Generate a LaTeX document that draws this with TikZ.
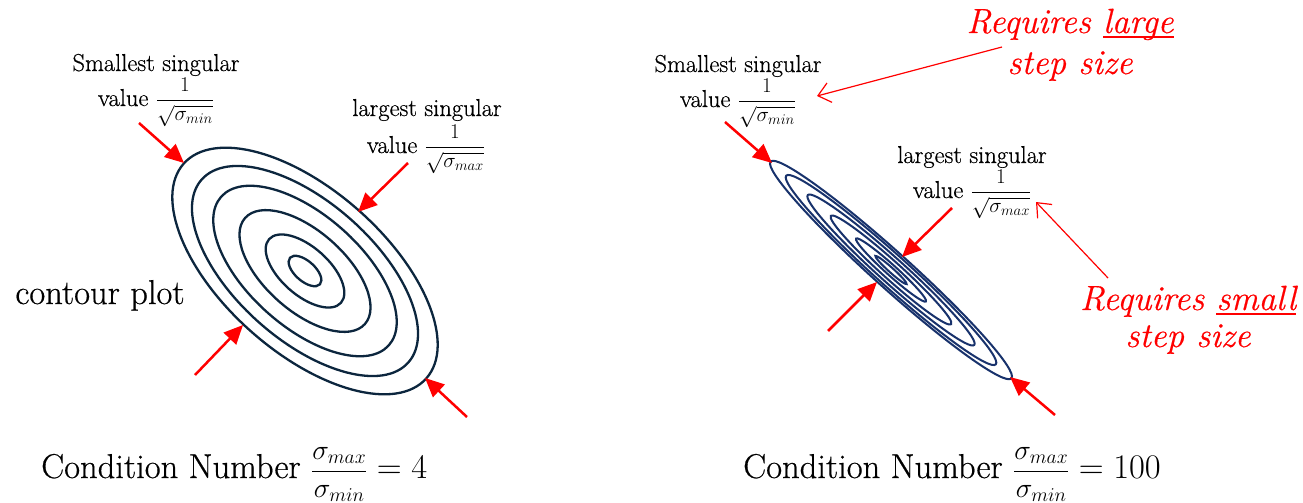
\documentclass[tikz,border=0pt]{standalone}
\usepackage{fix-cm}
\usepackage{amsmath}
\usepackage{fontspec}
\setmainfont{Latin Modern Roman}[FakeBold=0.5, AutoFakeBold=0.5]
\usetikzlibrary{arrows.meta}
\definecolor{contourA}{RGB}{12,38,62}
\definecolor{contourB}{RGB}{24,50,108}
\newcommand{\invsq}[1]{{\fontsize{21}{24}\selectfont$\dfrac{1}{\sqrt{\sigma_{#1}}}$}}
\newcommand{\cnfrac}{{\fontsize{28}{32}\selectfont$\dfrac{\sigma_{max}}{\sigma_{min}}$}}
\newsavebox{\ulbox}
\newcommand{\myul}[1]{\sbox{\ulbox}{#1}\rlap{\rule[-5pt]{\wd\ulbox}{1.8pt}}\usebox{\ulbox}}
\tikzset{
  lbl/.style={font=\fontsize{24.5}{28}\selectfont, inner sep=0pt, anchor=base},
  big/.style={font=\fontsize{34.5}{40}\selectfont, inner sep=0pt, anchor=base},
  req/.style={font=\fontsize{35}{40}\selectfont\itshape, text=red, inner sep=0pt, anchor=base},
  thickarrow/.style={red, line width=2.5pt, -{Triangle[length=19pt,width=17pt]}},
  thinarrow/.style={red, line width=1.2pt, -{Straight Barb[length=12pt,width=20pt]}},
  contA/.style={draw=contourA, line width=2.3pt},
  contB/.style={draw=contourB, line width=2pt},
}
\begin{document}
\begin{tikzpicture}[x=1pt,y=-1pt]
\useasboundingbox[fill=white] (0,0) rectangle (1303,503);

% ---------- left contour plot ----------
\begin{scope}[shift={(305,271)}, rotate=-41.5]
  \foreach \a in {162,138,112,80,48,20}
    \draw[contA] (0,0) ellipse [x radius=\a, y radius=\a/2];
\end{scope}

\node[lbl] (smin1) at (156,71) {Smallest singular};
\node[lbl] (vmin1) at (156,106) {value \invsq{min}};
\node[lbl] (smax1) at (427,116) {largest singular};
\node[lbl] (vmax1) at (426,153) {value \invsq{max}};
\node[big] (cp) at (100,304) {contour plot};
\node[big, anchor=base west] (cn1) at (41,478) {Condition Number \cnfrac$\;=4$};

\coordinate (a1s) at (139,123); \coordinate (a1t) at (184,163);
\coordinate (a2s) at (408,163); \coordinate (a2t) at (358,212);
\coordinate (a3s) at (195,375); \coordinate (a3t) at (243,325);
\coordinate (a4s) at (467,417); \coordinate (a4t) at (425,378);
\draw[thickarrow] (a1s) -- (a1t);
\draw[thickarrow] (a2s) -- (a2t);
\draw[thickarrow] (a3s) -- (a3t);
\draw[thickarrow] (a4s) -- (a4t);

% ---------- right contour plot ----------
\begin{scope}[shift={(891,270)}, rotate=-42]
  \foreach \a in {162,141,112,81,47,21}
    \draw[contB] (0,0) ellipse [x radius=\a, y radius=\a/9];
\end{scope}

\node[lbl] (smin2) at (738,72) {Smallest singular};
\node[lbl] (vmin2) at (738,107) {value \invsq{min}};
\node[lbl] (smax2) at (972,163) {largest singular};
\node[lbl] (vmax2) at (972,198) {value \invsq{max}};
\node[req] (rl1) at (1070,33) {Requires \myul{large}};
\node[req] (rl2) at (1070,74) {step size};
\node[req] (rs1) at (1188,310) {Requires \myul{small}};
\node[req] (rs2) at (1188,347) {step size};
\node[big, anchor=base west] (cn2) at (743,478) {Condition Number \cnfrac$\;=100$};

\coordinate (b1s) at (725,122); \coordinate (b1t) at (772,163);
\coordinate (b2s) at (952,208); \coordinate (b2t) at (902,257);
\coordinate (b3s) at (828,331); \coordinate (b3t) at (877,282);
\coordinate (b4s) at (1055,415); \coordinate (b4t) at (1010,377);
\draw[thickarrow] (b1s) -- (b1t);
\draw[thickarrow] (b2s) -- (b2t);
\draw[thickarrow] (b3s) -- (b3t);
\draw[thickarrow] (b4s) -- (b4t);

\coordinate (t1s) at (1002,47); \coordinate (t1t) at (817,96);
\coordinate (t2s) at (1108,278); \coordinate (t2t) at (1036,202);
\draw[thinarrow] (t1s) -- (t1t);
\draw[thinarrow] (t2s) -- (t2t);
\end{tikzpicture}
\end{document}
